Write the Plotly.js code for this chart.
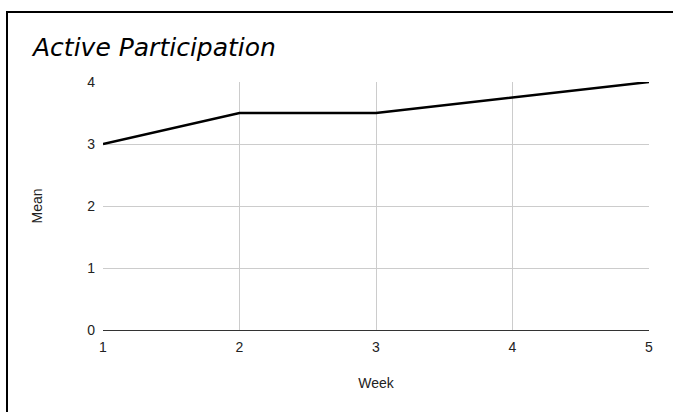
<!DOCTYPE html>
<html>
<head>
<meta charset="utf-8">
<script src="https://cdn.plot.ly/plotly-3.0.1.min.js"></script>
<style>
html,body{margin:0;padding:0;background:#fff;overflow:hidden;}
#wrap{position:relative;width:673px;height:412px;}
#chart{position:absolute;left:0;top:0;width:673px;height:412px;}
#frame{position:absolute;left:6px;top:11px;width:700px;height:450px;border:2px solid #000;pointer-events:none;}
</style>
</head>
<body>
<div id="wrap"><div id="chart"></div><div id="frame"></div></div>
<script>
const weeks = [1, 2, 3, 4, 5];
const means = [3, 3.5, 3.5, 3.75, 4];
const xTicks = [1, 2, 3, 4, 5];
const yTicks = [0, 1, 2, 3, 4];

const FONT = 'Liberation Sans, Arial, sans-serif';
const trace = {
  x: weeks, y: means, type: 'scatter', mode: 'lines',
  line: {color: '#000000', width: 2.5},
  hoverinfo: 'skip'
};
const layout = {
  width: 673, height: 412,
  margin: {l: 103, r: 24, t: 82, b: 82},
  paper_bgcolor: 'rgba(0,0,0,0)', plot_bgcolor: '#ffffff',
  showlegend: false,
  title: {
    text: 'Active Participation',
    font: {family: 'DejaVu Sans', size: 25, color: '#000', style: 'italic'},
    x: 33/673, xref: 'container', xanchor: 'left',
    y: 1 - 47/412, yref: 'container', yanchor: 'middle'
  },
  xaxis: {
    range: [1, 5], tickvals: xTicks, ticktext: xTicks.map(String),
    showgrid: true, gridcolor: '#cccccc', gridwidth: 1,
    showline: true, linecolor: '#333333', linewidth: 1,
    zeroline: false, ticks: '', ticklabelstandoff: 4,
    tickfont: {family: FONT, size: 14, color: '#222222'},
    title: {text: 'Week', font: {family: FONT, size: 14, color: '#222222'}, standoff: 24}
  },
  yaxis: {
    range: [0, 4], tickvals: yTicks, ticktext: yTicks.map(String),
    showgrid: true, gridcolor: '#cccccc', gridwidth: 1,
    showline: false, zeroline: false, ticks: '', ticklabelstandoff: 7,
    tickfont: {family: FONT, size: 14, color: '#222222'},
    title: {text: 'Mean', font: {family: FONT, size: 14, color: '#222222'}, standoff: 41}
  }
};
Plotly.newPlot('chart', [trace], layout, {staticPlot: true, displayModeBar: false});
</script>
</body>
</html>
